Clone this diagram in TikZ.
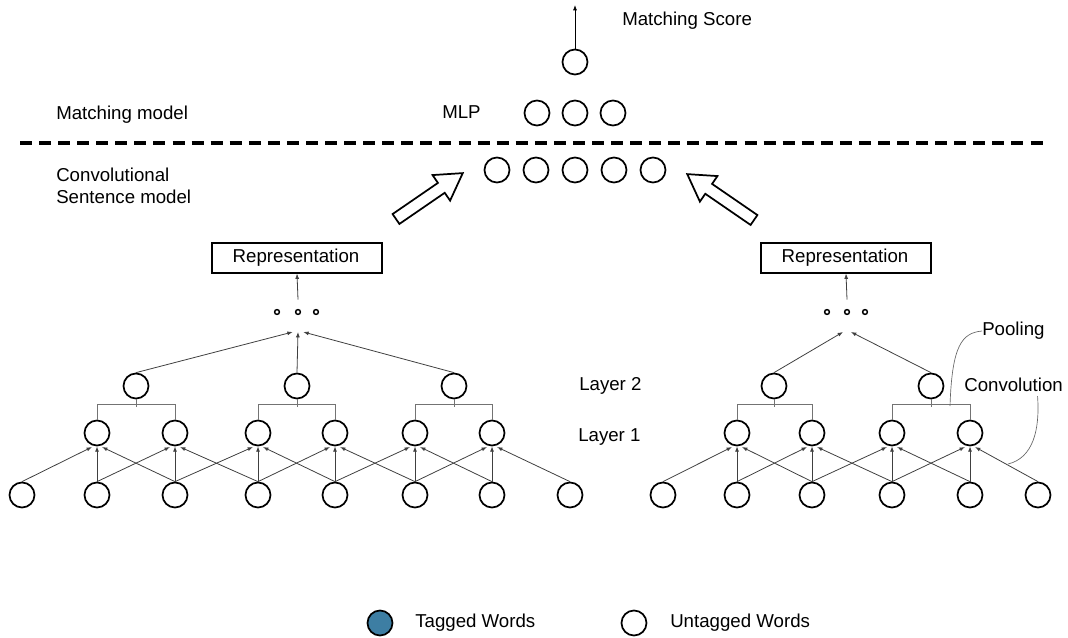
\documentclass[tikz,border=0pt]{standalone}
\usepackage{fontspec}
\setmainfont{Liberation Sans}
\usepackage{tikz}
\usetikzlibrary{calc,arrows.meta}
\definecolor{tagblue}{RGB}{61,126,163}
\newcommand{\drawBigArrow}[3]{% tail: x,y ; angle
  \begin{scope}[shift={(#1,#2)},rotate=#3]
    \draw[line width=1.3pt,fill=white] (0,-6) -- (55,-6) -- (55,-15.5)
      -- (81,0) -- (55,15.5) -- (55,6) -- (0,6) -- cycle;
  \end{scope}
}

\begin{document}
\begin{tikzpicture}[x=0.75pt,y=-0.75pt,>={Latex[length=4pt,width=3pt]},
  word/.style={circle,draw,line width=1.3pt,minimum size=18.75pt,inner sep=0pt},
  dot/.style={circle,draw,line width=1.1pt,minimum size=3.6pt,inner sep=0pt},
  repbox/.style={draw,line width=1.3pt,minimum width=128pt,minimum height=22pt,inner sep=0pt},
  lab/.style={font=\fontsize{14}{16.5}\selectfont,inner sep=0pt},
  conv/.style={->,line width=0.6pt,black!75},
  pool/.style={line width=0.6pt,black!55},
  callout/.style={line width=0.5pt,black!60}]
\useasboundingbox (0,0) rectangle (1068,638);
% Reference grid (temporary)
%\draw[help lines,step=50] (0,0) grid (1068,638);

% matching model
\node[word] (score) at (575,62) {};
\coordinate (scoretip) at (575,5);
\draw[conv,black] (score.north) -- (scoretip);
\node[lab,anchor=west] (scorelab) at (622,21) {Matching Score};
\foreach \x [count=\i] in {537,575,613} {
  \node[word] (mlp\i) at (\x,113) {};
}
\node[lab,anchor=west] (mlplab) at (442,112) {MLP};
\node[lab,anchor=west] (matchlab) at (56,115) {Matching model};
\draw[line width=3pt,dash pattern=on 9pt off 5.3pt] (20,143) -- (1046,143);
\foreach \x [count=\i] in {497,536,575,614,653} {
  \node[word] (join\i) at (\x,170) {};
}
\node[lab,anchor=west,align=left] (sentlab) at (56,186) {Convolutional\\Sentence model};
\drawBigArrow{396}{219}{34.5}
\drawBigArrow{754}{220}{145.5}

% left sentence
\foreach \x [count=\i from 0] in {22,97,175,258,335,415,492,570} {
  \node[word] (L-w\i) at (\x,495) {};
}
\foreach \i in {1,...,6} {
  \node[word] (L-c\i) at (L-w\i |- 0,433) {};
}
\foreach \i in {1,...,6} {
  \pgfmathtruncatemacro{\a}{\i-1}
  \pgfmathtruncatemacro{\b}{\i+1}
  \draw[conv] (L-w\a.north) -- ([xshift=-3.8pt,yshift=-0.5pt]L-c\i.south);
  \draw[conv] (L-w\i.north) -- (L-c\i.south);
  \draw[conv] (L-w\b.north) -- ([xshift=3.8pt,yshift=-0.5pt]L-c\i.south);
}
\foreach \x [count=\i] in {136,297,454} {
  \node[word] (L-p\i) at (\x,386) {};
}
\foreach \i/\j/\k in {1/1/2,2/3/4,3/5/6} {
  \draw[pool] (L-c\j.north) -- ++(0,-15) -| (L-c\k.north);
  \draw[pool] (L-p\i.south) -- ++(0,8);
}
\coordinate (L-top) at (298,332);
\draw[conv] (L-p1.north) -- ([xshift=-4pt]L-top);
\draw[conv] (L-p2.north) -- (L-top);
\draw[conv] (L-p3.north) -- ([xshift=4pt]L-top);
\foreach \x [count=\i] in {277,298,316} {
  \node[dot] (L-d\i) at (\x,312) {};
}
\node[repbox] (L-rep) at (297,258) {};
\node[lab] (L-replab) at (296,258) {Representation};
\draw[conv] ([yshift=7pt]L-d2.north) -- (L-rep.south);

% right sentence
\foreach \x [count=\i from 0] in {663,737,812,892,970,1038} {
  \node[word] (R-w\i) at (\x,495) {};
}
\foreach \i in {1,...,4} {
  \node[word] (R-c\i) at (R-w\i |- 0,433) {};
}
\foreach \i in {1,...,4} {
  \pgfmathtruncatemacro{\a}{\i-1}
  \pgfmathtruncatemacro{\b}{\i+1}
  \draw[conv] (R-w\a.north) -- ([xshift=-3.8pt,yshift=-0.5pt]R-c\i.south);
  \draw[conv] (R-w\i.north) -- (R-c\i.south);
  \draw[conv] (R-w\b.north) -- ([xshift=3.8pt,yshift=-0.5pt]R-c\i.south);
}
\foreach \x [count=\i] in {774,931} {
  \node[word] (R-p\i) at (\x,386) {};
}
\foreach \i/\j/\k in {1/1/2,2/3/4} {
  \draw[pool] (R-c\j.north) -- ++(0,-15) -| (R-c\k.north);
  \draw[pool] (R-p\i.south) -- ++(0,8);
}
\coordinate (R-top) at (847,332);
\draw[conv] (R-p1.north) -- ([xshift=-3pt]R-top);
\draw[conv] (R-p2.north) -- ([xshift=3pt]R-top);
\foreach \x [count=\i] in {827,847,865} {
  \node[dot] (R-d\i) at (\x,312) {};
}
\node[repbox] (R-rep) at (846,258) {};
\node[lab] (R-replab) at (845,258) {Representation};
\draw[conv] ([yshift=7pt]R-d2.north) -- (R-rep.south);

% layer names and callouts
\node[lab,anchor=west] (lay2) at (579,386) {Layer 2};
\node[lab,anchor=west] (lay1) at (578,437) {Layer 1};
\node[lab,anchor=west] (poollab) at (982,331) {Pooling};
\node[lab,anchor=west] (convlab) at (964,385) {Convolution};
\coordinate (poolpt) at (950,406);
\coordinate (convpt) at (1008,464);
\draw[callout] (poolpt) .. controls (952,345) and (962,333) .. (poollab.west);
\draw[callout] (convpt) .. controls (1033,458) and (1040,430) .. ([xshift=18pt,yshift=-3pt]convlab.south);

% legend
\node[word,fill=tagblue] (tagc) at (380,623) {};
\node[lab,anchor=west] (taglab) at (415,623) {Tagged Words};
\node[word] (untagc) at (634,623) {};
\node[lab,anchor=west] (untaglab) at (670,623) {Untagged Words};
\end{tikzpicture}
\end{document}
